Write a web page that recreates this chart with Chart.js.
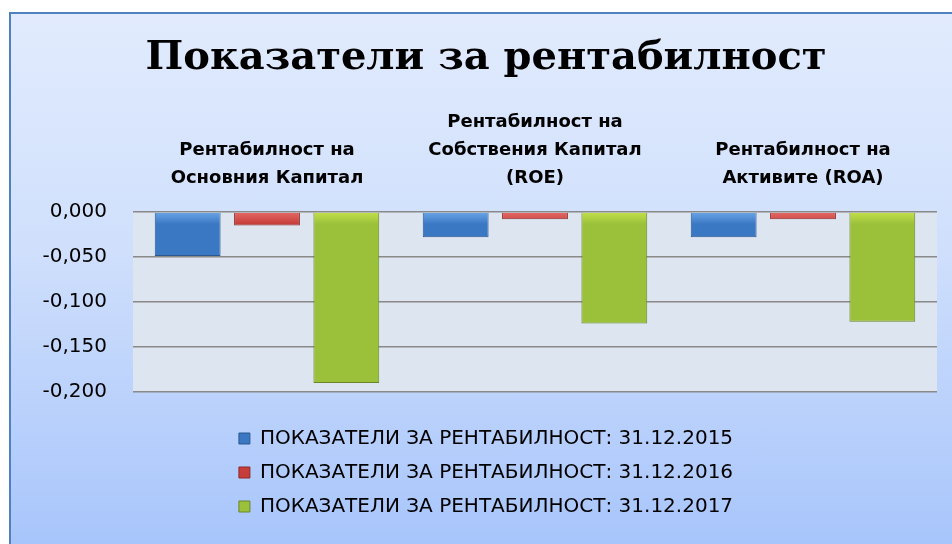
<!DOCTYPE html>
<html>
<head>
<meta charset="utf-8">
<script src="https://cdn.jsdelivr.net/npm/chart.js@4/dist/chart.umd.min.js"></script>
<style>
  html, body { margin: 0; padding: 0; background: #fff; width: 952px; height: 544px; overflow: hidden; }
  #frame { position: absolute; left: 9px; top: 12px; width: 943px; height: 532px; box-sizing: border-box;
    border-left: 2px solid #4f81bd; border-top: 2px solid #4f81bd;
    background: linear-gradient(to bottom, #e1ebfd 0%, #cfdffc 45%, #a8c5fb 100%); }
  #chart { position: absolute; left: 0; top: 0; }
</style>
</head>
<body>
<div id="frame"></div>
<canvas id="chart" width="952" height="544"></canvas>
<script>
const categories = [
  ['Рентабилност на', 'Основния Капитал'],
  ['Рентабилност на', 'Собствения Капитал', '(ROE)'],
  ['Рентабилност на', 'Активите (ROA)']
];
const seriesLabels = [
  'ПОКАЗАТЕЛИ ЗА РЕНТАБИЛНОСТ: 31.12.2015',
  'ПОКАЗАТЕЛИ ЗА РЕНТАБИЛНОСТ: 31.12.2016',
  'ПОКАЗАТЕЛИ ЗА РЕНТАБИЛНОСТ: 31.12.2017'
];
const values2015 = [-0.049, -0.028, -0.028];
const values2016 = [-0.015, -0.008, -0.008];
const values2017 = [-0.190, -0.124, -0.122];
const yMin = -0.2, yMax = 0, yStep = 0.05;

/* plot area fill */
const plotBg = {
  id: 'plotBg',
  beforeDraw(chart) {
    const a = chart.chartArea, c = chart.ctx;
    c.save();
    c.fillStyle = '#dde5f0';
    c.fillRect(a.left, a.top, a.right - a.left, a.bottom - a.top);
    c.restore();
  }
};

// light top edge on the bars, like the bevel in the original
function barFill(light, main) {
  return ctx => {
    const a = ctx.chart.chartArea;
    if (!a) return main;
    const g = ctx.chart.ctx.createLinearGradient(0, a.top, 0, a.top + 12);
    g.addColorStop(0, light);
    g.addColorStop(1, main);
    return g;
  };
}

const fmt = v => Math.abs(v) < 1e-9 ? '0,000' : v.toFixed(3).replace('.', ',');

new Chart(document.getElementById('chart').getContext('2d'), {
  type: 'bar',
  data: {
    labels: categories,
    datasets: [
      { label: seriesLabels[0], data: values2015, backgroundColor: barFill('#6aa6e6', '#3b78c4'), borderColor: '#2a5890', borderWidth: 1 },
      { label: seriesLabels[1], data: values2016, backgroundColor: barFill('#e46a66', '#c63d3b'), borderColor: '#8c2a2a', borderWidth: 1 },
      { label: seriesLabels[2], data: values2017, backgroundColor: barFill('#c4e04a', '#9bc13a'), borderColor: '#6a8628', borderWidth: 1 }
    ]
  },
  options: {
    responsive: false, animation: false,
    categoryPercentage: 0.888, barPercentage: 0.83,
    layout: { padding: { left: 35, right: 15, top: 0, bottom: 17.5 } },
    plugins: {
      title: { display: true, text: 'Показатели за рентабилност', color: '#000',
        font: { family: 'DejaVu Serif', size: 40, weight: 'bold', lineHeight: 1.2 }, padding: { top: 35, bottom: 0 } },
      legend: { position: 'bottom', align: 'center',
        title: { display: true, text: ' ', font: { size: 10, lineHeight: 1.2 }, padding: { top: 10.5, bottom: 0 } },
        labels: { color: '#000', font: { family: 'DejaVu Sans', size: 20 }, boxWidth: 11, boxHeight: 11, padding: 14 } },
      tooltip: { enabled: false }
    },
    scales: {
      x: { position: 'top', grid: { display: false }, border: { display: false },
        ticks: { color: '#000', font: { family: 'DejaVu Sans', size: 18, weight: 'bold', lineHeight: 1.55 }, padding: 11.5, maxRotation: 0, autoSkip: false },
        afterFit: s => { s.height = 129; } },
      y: { min: yMin, max: yMax, border: { display: false },
        grid: { color: '#898989', lineWidth: 1.5, drawTicks: false },
        ticks: { stepSize: yStep, color: '#000', font: { family: 'DejaVu Sans', size: 20 }, padding: 26, callback: v => fmt(v) },
        afterFit: s => { s.width = 98; } }
    }
  },
  plugins: [plotBg]
});
</script>
</body>
</html>
